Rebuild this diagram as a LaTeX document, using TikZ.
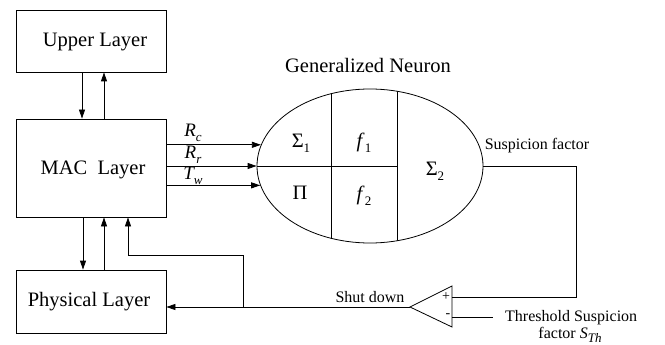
\documentclass[tikz,border=0pt]{standalone}
\usepackage{fontspec}
\setmainfont{Liberation Serif}
\usetikzlibrary{arrows.meta,shapes.geometric}
\newcommand{\mysub}[1]{\raisebox{-0.25em}{\fontsize{13}{14}\selectfont #1}}
\tikzset{
  box/.style={draw,line width=0.8pt,inner sep=0pt,minimum width=150pt,font=\fontsize{20.5}{24}\selectfont},
  ln/.style={line width=0.8pt},
  arr/.style={line width=0.8pt,-{Triangle[length=9pt,width=6pt]}},
  big/.style={font=\fontsize{20.5}{24}\selectfont,inner sep=0pt},
  small/.style={font=\fontsize{16}{19}\selectfont,inner sep=0pt},
  lab/.style={font=\fontsize{19}{22}\selectfont\itshape,inner sep=0pt},
}
\begin{document}
\begin{tikzpicture}[x=1pt,y=-1pt]
\useasboundingbox (0,0) rectangle (665,345);
% layer boxes
\node[box,minimum height=62pt] (up) at (91,41) {};
\node[big] (uptxt) at (95,42) {Upper Layer};
\node[box,minimum height=98pt] (mac) at (91,168) {};
\node[big] (mactxt) at (93,170) {MAC\ \ Layer};
\node[box,minimum height=63pt] (phy) at (91,301.5) {};
\node[big] (phytxt) at (89,302) {Physical Layer};
% vertical arrows
\draw[arr] (up.south -| 82,0) -- (mac.north -| 82,0);
\draw[arr] (mac.north -| 104,0) -- (up.south -| 104,0);
\draw[arr] (mac.south -| 83,0) -- (phy.north -| 83,0);
\draw[arr] (phy.north -| 104,0) -- (mac.south -| 104,0);
% neuron
\node[big] (title) at (368,65) {Generalized Neuron};
\node[draw,ln,ellipse,minimum width=226pt,minimum height=154pt,inner sep=0pt] (gn) at (370,166) {};
\begin{scope}
\clip (370,166) ellipse [x radius=113pt,y radius=77pt];
\draw[ln] (331,80) -- (331,250);
\draw[ln] (397,80) -- (397,250);
\draw[ln] (250,166) -- (397,166);
\end{scope}
\node[big] (s1) at (301,143) {Σ\mysub{1}};
\node[big] (f1) at (364,143) {\textit{f}\mysub{1}};
\node[big] (pi) at (300,193) {Π};
\node[big] (f2) at (364,196) {\textit{f}\mysub{2}};
\node[big] (s2) at (435,171) {Σ\mysub{2}};
% inputs
\draw[arr] (gn.169.06 -| mac.east) -- (gn.169.06);
\draw[arr] (gn.west -| mac.east) -- (gn.west);
\draw[arr] (gn.190.94 -| mac.east) -- (gn.190.94);
\node[lab] (rc) at (193,133) {R\mysub{\itshape c}};
\node[lab] (rr) at (193,155) {R\mysub{\itshape r}};
\node[lab] (tw) at (193,176) {T\mysub{\itshape w}};
% comparator
\coordinate (tip) at (410,307);
\coordinate (ctop) at (452,286);
\coordinate (cbot) at (452,327);
\draw[ln] (tip) -- (ctop) -- (cbot) -- cycle;
\node[font=\fontsize{14}{16}\selectfont,inner sep=0pt] (plus) at (446,297) {+};
\node[font=\fontsize{14}{16}\selectfont,inner sep=0pt] (minus) at (448,315.5) {-};
\coordinate (cp) at (452,297);
\coordinate (cm) at (452,317);
\coordinate (thr) at (493,317);
\coordinate (sfc) at (576,166);
\draw[ln] (gn.east) -- (sfc) |- (cp);
\draw[ln] (cm) -- (thr);
\node[small] (sf) at (537,146) {Suspicion factor};
\node[small,anchor=west] (thtxt) at (505,318) {Threshold Suspicion};
\node[small] (fs) at (570,335) {factor \textit{S}\mysub{\itshape Th}};
% output
\draw[arr] (tip) -- (tip -| phy.east);
\node[small] (sd) at (370,297) {Shut down};
\coordinate (br) at (243,307);
\coordinate (bt) at (243,255);
\draw[arr] (br) -- (bt) -| (mac.south -| 128,0);
\end{tikzpicture}
\end{document}
